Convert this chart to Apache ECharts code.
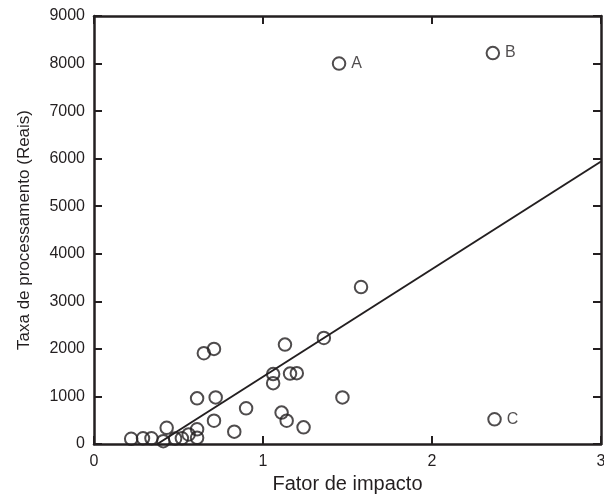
<!DOCTYPE html>
<html>
<head>
<meta charset="utf-8">
<script src="https://cdn.jsdelivr.net/npm/echarts@6/dist/echarts.min.js"></script>
<style>html,body{margin:0;padding:0;background:#fff}#c{width:604px;height:497px}</style>
</head>
<body>
<div id="c"></div>
<script>
// Data
const xTicks = [0, 1, 2, 3];
const yTicks = [0, 1000, 2000, 3000, 4000, 5000, 6000, 7000, 8000, 9000];
const impactFactor = [0.22,0.29,0.34,0.41,0.43,0.48,0.52,0.56,0.61,0.61,0.61,0.65,0.71,0.72,0.71,0.83,0.90,1.06,1.06,1.13,1.16,1.20,1.11,1.14,1.24,1.36,1.47,1.58];
const fee =          [110, 120, 120, 60,  340, 115, 120, 200, 130, 310, 960, 1910,2000,980, 490, 260, 750, 1470,1280,2090,1480,1490,660, 490, 350, 2230,980, 3300];
const outlierNames = ['A', 'B', 'C'];
const outlierX = [1.45, 2.36, 2.37];
const outlierY = [8000, 8220, 520];
const fitX = [0.375, 3];
const fitY = [0, 5940];

const ink = '#231f20';
const font = 'Liberation Sans, Arial, sans-serif';

const chart = echarts.init(document.getElementById('c'), null, {renderer: 'canvas'});
const axisCommon = {
  type: 'value',
  axisLine: {show: true, onZero: false, lineStyle: {color: ink, width: 2.5}},
  axisTick: {show: true, inside: true, length: 8, lineStyle: {color: ink, width: 2}},
  splitLine: {show: false}
};
chart.setOption({
  animation: false,
  backgroundColor: '#fff',
  grid: {left: 94, right: 3, top: 16, bottom: 53, containLabel: false, outerBoundsMode: 'none'},
  xAxis: [
    Object.assign({}, axisCommon, {
      position: 'bottom', min: xTicks[0], max: xTicks[xTicks.length - 1], interval: 1,
      axisLabel: {color: ink, fontSize: 16, fontFamily: font, margin: 10},
      name: 'Fator de impacto', nameLocation: 'middle', nameGap: 30,
      nameTextStyle: {color: ink, fontSize: 20, fontFamily: font}
    }),
    Object.assign({}, axisCommon, {
      position: 'top', min: xTicks[0], max: xTicks[xTicks.length - 1], interval: 1,
      axisLabel: {show: false}
    })
  ],
  yAxis: [
    Object.assign({}, axisCommon, {
      position: 'left', min: yTicks[0], max: yTicks[yTicks.length - 1], interval: 1000,
      axisLabel: {color: ink, fontSize: 16, fontFamily: font, margin: 9, formatter: v => String(v)},
      name: 'Taxa de processamento (Reais)', nameLocation: 'middle', nameGap: 61,
      nameTextStyle: {color: ink, fontSize: 17, fontFamily: font}
    }),
    Object.assign({}, axisCommon, {
      position: 'right', min: yTicks[0], max: yTicks[yTicks.length - 1], interval: 1000,
      axisLabel: {show: false}
    })
  ],
  series: [
    {
      type: 'line', xAxisIndex: 0, yAxisIndex: 0,
      data: fitX.map((x, i) => [x, fitY[i]]),
      symbol: 'none', lineStyle: {color: ink, width: 2}, z: 2
    },
    {
      type: 'scatter', xAxisIndex: 0, yAxisIndex: 0,
      data: impactFactor.map((x, i) => [x, fee[i]]),
      symbol: 'circle', symbolSize: 12.5,
      itemStyle: {color: 'rgba(0,0,0,0)', borderColor: ink, borderWidth: 2}, z: 3
    },
    {
      type: 'scatter', xAxisIndex: 0, yAxisIndex: 0,
      data: outlierX.map((x, i) => ({value: [x, outlierY[i]], name: outlierNames[i]})),
      symbol: 'circle', symbolSize: 12.5,
      itemStyle: {color: 'rgba(0,0,0,0)', borderColor: ink, borderWidth: 2},
      label: {show: true, position: 'right', distance: 5, formatter: p => p.name,
        color: ink, fontSize: 16, fontFamily: font}, z: 3
    }
  ]
});
</script>
</body>
</html>
